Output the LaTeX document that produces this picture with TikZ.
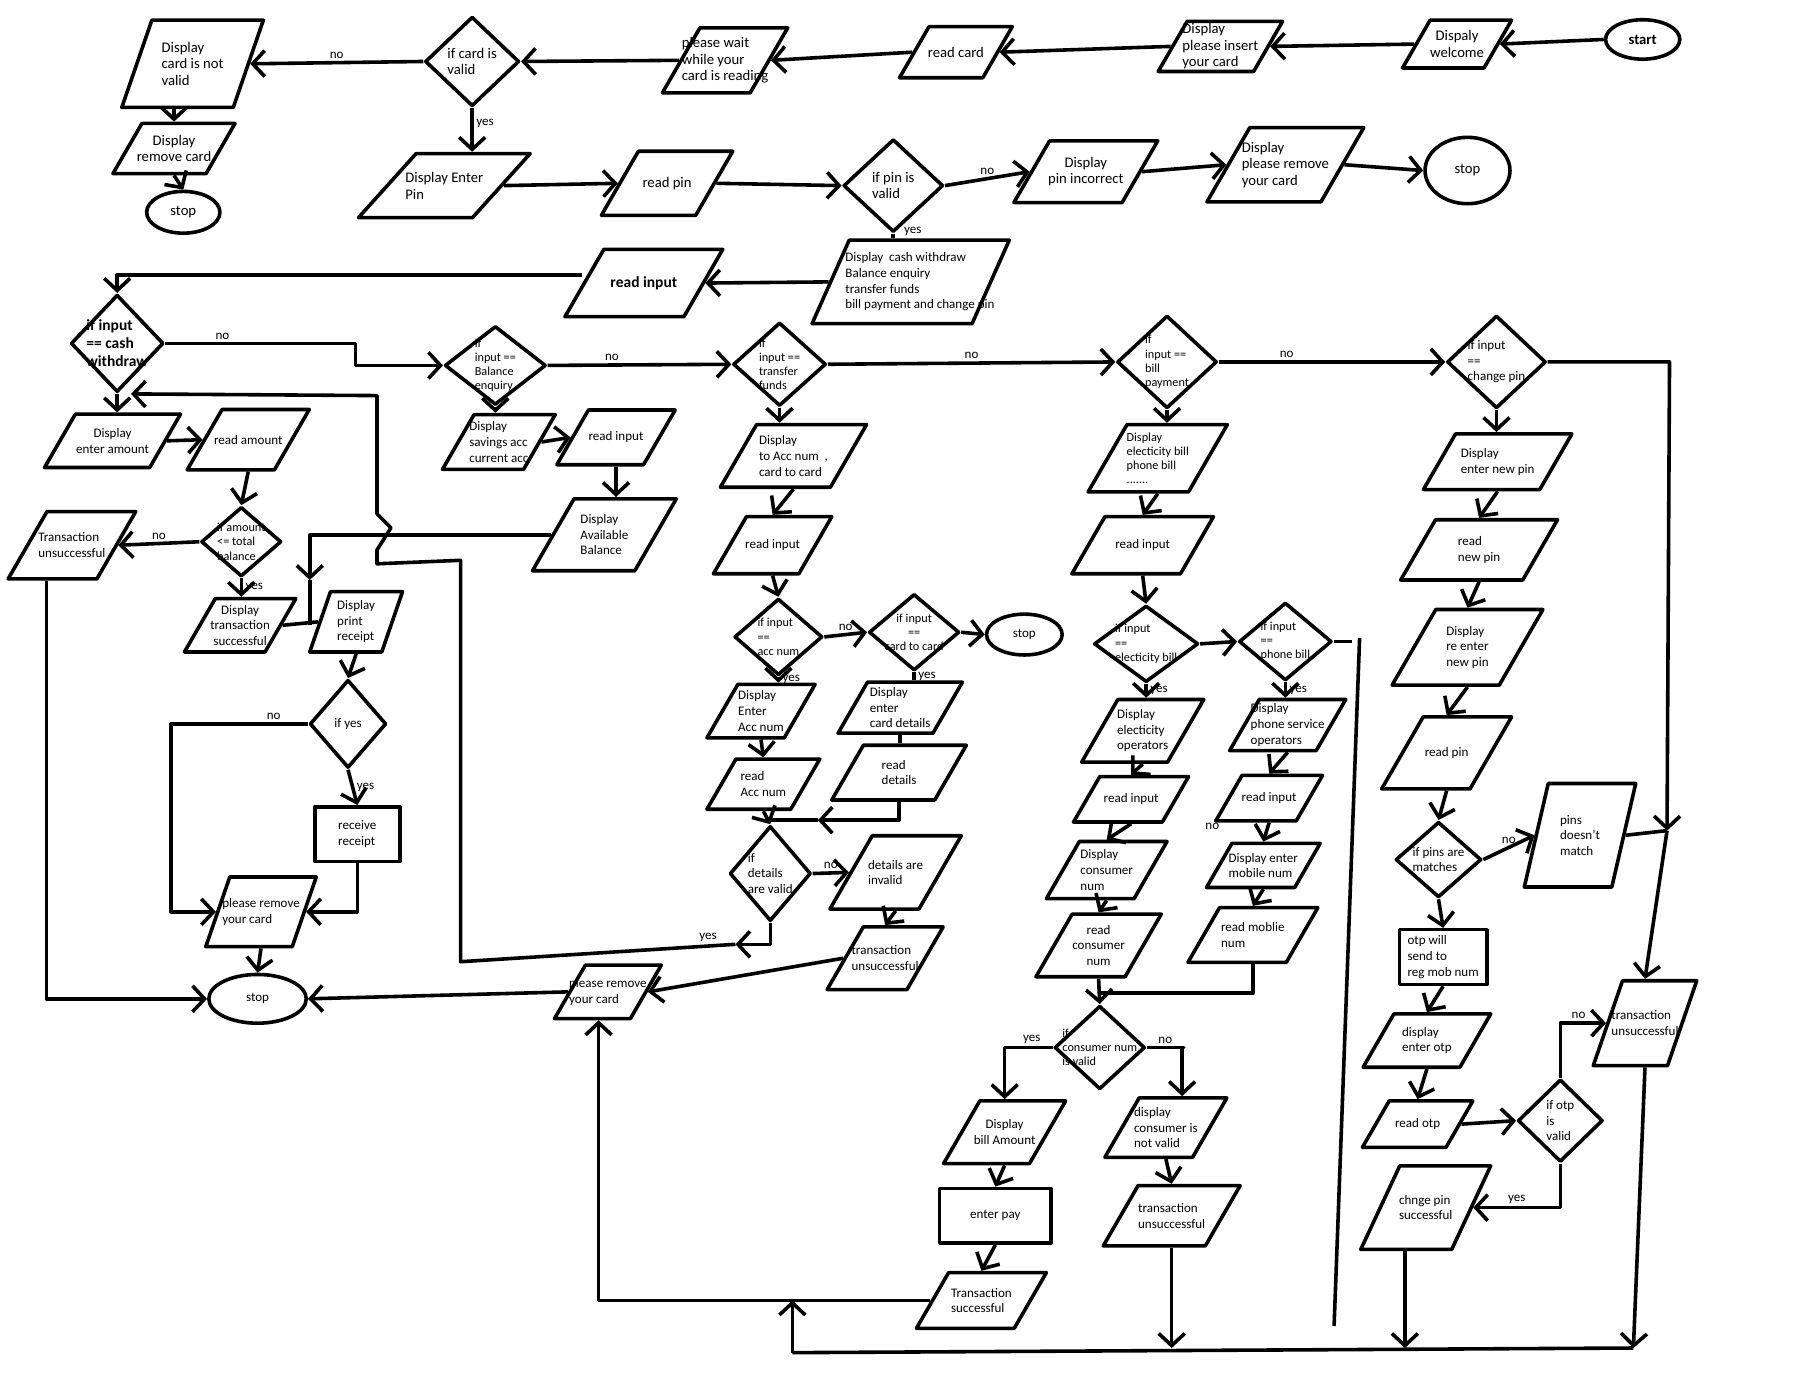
\documentclass[tikz,border=0pt]{standalone}
\usepackage{fontspec}
\setmainfont{Carlito}
\usetikzlibrary{arrows.meta,shapes.geometric}

\begin{document}
\begin{tikzpicture}[x=0.25mm, y=-0.25mm,
    ln/.style={line width=2.2pt, line join=round},
    arr/.style={ln, -{Straight Barb[length=2.6mm, width=5.6mm]}},
    lab/.style={font=\fontsize{8}{9.6}\selectfont, inner sep=1.5pt},
    txt/.style={font=\fontsize{8}{9.6}\selectfont, align=left, inner sep=0pt},
    txtb/.style={font=\fontsize{9}{10.2}\selectfont, align=left, inner sep=0pt},
    txts/.style={font=\fontsize{7.5}{8.7}\selectfont, align=left, inner sep=0pt},
    say/.style={label={[txt]center:#1}},
    sayc/.style={label={[txt, align=center]center:#1}},
    says/.style={label={[txts]center:#1}},
    saysc/.style={label={[txts, align=center]center:#1}},
    sayb/.style={label={[txtb]center:#1}},
    saybc/.style={label={[txtb, align=center]center:#1}},
    saybold/.style={label={[txtb, font=\fontsize{9.5}{11}\selectfont\bfseries]center:#1}},
    io/.style 2 args={draw, ln, trapezium, trapezium left angle=60, trapezium right angle=120,
        trapezium stretches body=true, inner xsep=0pt, inner ysep=#2*0.5cm, minimum width=#1cm},
    steep/.style={trapezium left angle=71, trapezium right angle=109},
    dec/.style 2 args={draw, ln, diamond, inner sep=0pt, minimum width=#1cm, minimum height=#2cm},
    term/.style 2 args={draw, ln, ellipse, inner sep=1pt, minimum width=#1cm, minimum height=#2cm,
        font=\fontsize{9}{10.7}\selectfont},
    proc/.style 2 args={draw, ln, rectangle, inner sep=2pt, minimum width=#1cm, minimum height=#2cm,
        align=left, font=\fontsize{8}{9.6}\selectfont}
]
  \useasboundingbox (0,0) rectangle (1568,1196);

  % card and pin
  \node[term={1.6}{0.85}, font=\fontsize{9}{10.7}\selectfont\bfseries] (start) at (1416,34) {start};
  \node[io={2.35}{1.03}, saybc={Dispaly\\welcome}] (welcome) at (1256,38) {};
  \node[io={2.68}{1.08}, sayb={Display\\please insert\\your card}] (insert) at (1052,40) {};
  \node[io={2.43}{1.1}, sayb={read card}] (readcard) at (824,45) {};
  \node[io={2.7}{1.4}, sayb={please wait\\while your\\card is reading}] (wait) at (625,52) {};
  \node[dec={2.03}{1.93}, sayb={if card is\\valid}] (cardvalid) at (407,53) {};
  \node[io={3.05}{1.88}, steep, sayb={Display\\card is not\\valid}] (notvalid) at (166,55) {};
  \node[io={2.63}{1.08}, saybc={Display\\remove card}] (remove1) at (150,128) {};
  \node[term={1.58}{0.9}] (stop1) at (158,183) {stop};
  \node[io={3.7}{1.38}, trapezium left angle=48, trapezium right angle=132, sayb={Display Enter\\Pin}] (enterpin) at (383,160) {};
  \node[io={2.83}{1.38}, sayb={read pin}] (readpin) at (575,158) {};
  \node[dec={2.15}{2.0}, sayb={if pin is\\valid}] (pinvalid) at (770,160) {};
  \node[io={3.1}{1.33}, saybc={Display\\pin incorrect}] (pinwrong) at (936,148) {};
  \node[io={3.38}{1.6}, sayb={Display\\please remove\\your card}] (remove2) at (1108,142) {};
  \node[term={1.83}{1.43}] (stop2) at (1265,147) {stop};
  \node[io={4.25}{1.8}, trapezium left angle=66, trapezium right angle=114,
    label={[txt, xshift=0.2cm]center:Display\ \ cash withdraw\\Balance enquiry\\transfer funds\\bill payment and change pin}] (menu) at (785,243) {};
  \node[io={3.4}{1.45}, saybold={read input}] (readin) at (555,244) {};

  % menu choices
  \node[dec={2.0}{2.1}, saybold={if input\\== cash\\withdraw}] (dcash) at (101,296) {};
  \node[dec={2.18}{1.7}, says={if\\input ==\\Balance\\enquiry}] (dbal) at (427,315) {};
  \node[dec={2.0}{1.8}, says={if\\input ==\\transfer\\funds}] (dtrans) at (672,314) {};
  \node[dec={2.15}{2.0}, says={if\\input ==\\bill\\payment}] (dbill) at (1006,312) {};
  \node[dec={2.13}{2.0}, say={if input\\==\\change pin}] (dpin) at (1290,312) {};

  % cash withdraw
  \node[io={2.93}{1.15}, sayc={Display\\enter amount}] (amount) at (97,380) {};
  \node[io={2.63}{1.3}, say={read amount}] (readamt) at (214,379) {};
  \node[dec={1.73}{1.5}, says={if amount\\<= total\\balance}] (damt) at (208,467) {};
  \node[io={2.75}{1.45}, say={Transaction\\unsuccessful}] (fail1) at (62,470) {};
  \node[io={2.4}{1.15}, sayc={Display\\transaction\\successful}] (okcash) at (207,539) {};
  \node[io={2.0}{1.3}, steep, say={Display\\print\\receipt}] (print) at (307,536) {};
  \node[dec={1.65}{1.9}, say={if yes}] (dyes) at (300,624) {};
  \node[proc={1.83}{1.18}] (receipt) at (308,719) {receive\\receipt};
  \node[io={2.38}{1.5}, steep, say={please remove\\your card}] (remove3) at (225,786) {};
  \node[term={2.1}{1.05}, font=\fontsize{8}{9.6}\selectfont] (stop3) at (222,861) {stop};

  % balance enquiry
  \node[io={2.43}{1.18}, say={Display\\savings acc\\current acc}] (accs) at (430,381) {};
  \node[io={2.55}{1.18}, say={read input}] (readin2) at (531,377) {};
  \node[io={3.1}{1.55}, say={Display\\Available\\Balance}] (balance) at (521,461) {};

  % transfer funds
  \node[io={3.15}{1.35}, say={Display\\to Acc num ~,\\card to card}] (toacc) at (684,393) {};
  \node[io={2.55}{1.23}, say={read input}] (readin3) at (666,470) {};
  \node[dec={1.9}{1.65}, says={if input\\==\\acc num}] (dacc) at (671,549) {};
  \node[dec={1.95}{1.65}, saysc={if input\\==\\card to card}] (dcard) at (788,545) {};
  \node[term={1.63}{0.88}, font=\fontsize{8}{9.6}\selectfont] (stop4) at (883,547) {stop};
  \node[io={2.33}{1.15}, say={Display\\Enter\\Acc num}] (enteracc) at (656,613) {};
  \node[io={2.68}{1.1}, say={Display\\enter\\card details}] (entercard) at (776,610) {};
  \node[io={2.43}{1.08}, say={read\\Acc num}] (readacc) at (658,676) {};
  \node[io={2.9}{1.18}, say={read\\details}] (readdet) at (775,666) {};
  \node[dec={1.75}{2.05}, say={if\\details\\are valid}] (ddet) at (664,753) {};
  \node[io={2.83}{1.58}, say={details are\\invalid}] (invalid) at (772,752) {};
  \node[io={2.5}{1.35}, say={transaction\\unsuccessful}] (fail2) at (763,826) {};
  \node[io={2.3}{1.15}, say={please remove\\your card}] (remove4) at (524,855) {};

  % bill payment
  \node[io={3.0}{1.45}, says={Display\\electicity bill\\phone bill\\.......}] (bills) at (998,395) {};
  \node[io={3.05}{1.23}, say={read input}] (readin4) at (985,470) {};
  \node[dec={2.25}{1.65}, says={if input\\==\\electicity bill}] (delec) at (988,555) {};
  \node[dec={2.0}{1.68}, says={if input\\==\\phone bill}] (dphone) at (1108,553) {};
  \node[io={2.63}{1.35}, say={Display\\electicity\\operators}] (elecop) at (985,630) {};
  \node[io={2.48}{0.98}, say={read input}] (readin5) at (975,689) {};
  \node[io={2.6}{1.23}, say={Display\\consumer\\num}] (consumer) at (954,750) {};
  \node[io={2.7}{1.35}, sayc={read\\consumer\\num}] (readcons) at (947,815) {};
  \node[dec={1.95}{1.8}, says={if\\consumer num\\is valid}] (dcons) at (948,903) {};
  \node[io={2.63}{1.35}, sayc={Display\\bill Amount}] (billamt) at (866,976) {};
  \node[proc={2.4}{1.18}] (pay) at (858,1048) {enter pay};
  \node[io={2.8}{1.2}, say={Transaction\\successful}] (paid) at (846,1121) {};
  \node[io={2.63}{1.28}, say={display\\consumer is\\not valid}] (badcons) at (1005,972) {};
  \node[io={2.95}{1.3}, say={transaction\\unsuccessful}] (fail3) at (1010,1048) {};
  \node[io={2.5}{1.1}, say={Display\\phone service\\operators}] (phoneop) at (1110,625) {};
  \node[io={2.3}{0.98}, say={read input}] (readin6) at (1094,688) {};
  \node[io={2.45}{0.95}, say={Display enter\\mobile num}] (mobile) at (1089,746) {};
  \node[io={2.8}{1.18}, say={read moblie\\num}] (readmob) at (1080,806) {};
  \node[lab] (strayno) at (1045,712) {no};

  % change pin
  \node[io={3.2}{1.2}, say={Display\\enter new pin}] (newpin) at (1291,398) {};
  \node[io={3.38}{1.3}, say={read\\new pin}] (readnew) at (1275,474) {};
  \node[io={3.25}{1.63}, say={Display\\re enter\\new pin}] (reenter) at (1265,558) {};
  \node[io={2.8}{1.55}, say={read pin}] (readpin2) at (1247,649) {};
  \node[dec={1.85}{1.63}, say={if pins are\\matches}] (dpins) at (1240,741) {};
  \node[io={2.4}{2.23}, trapezium left angle=77, trapezium right angle=103, say={pins\\doesn't\\match}] (nomatch) at (1362,720) {};
  \node[proc={1.88}{1.18}] (otp) at (1244,825) {otp will\\send to\\reg mob num};
  \node[io={2.75}{1.15}, say={display\\enter otp}] (enterotp) at (1230,897) {};
  \node[io={2.38}{1.0}, say={read otp}] (readotp) at (1222,969) {};
  \node[dec={1.83}{1.78}, say={if otp\\is\\valid}] (dotp) at (1345,966) {};
  \node[io={2.8}{1.8}, trapezium left angle=65, trapezium right angle=115, say={chnge pin\\successful}] (pinok) at (1229,1041) {};
  \node[io={2.23}{1.83}, steep, say={transaction\\unsuccessful}] (fail4) at (1418,882) {};

  % top rows
  \draw[arr] (start.west) -- (welcome.east);
  \draw[arr] (welcome.west) -- (insert.east);
  \draw[arr] (insert.west) -- (readcard.east);
  \draw[arr] (readcard.west) -- (wait.east);
  \draw[arr] (wait.west) -- (cardvalid.east);
  \draw[arr] (cardvalid.west) -- node[lab, above] {no} (notvalid.east);
  \draw[arr] (remove1.north |- notvalid.south) -- (remove1.north);
  \draw[arr] (remove1.south) -- (stop1.north);
  \draw[arr] (cardvalid.south) -- node[lab, right, pos=.35] {yes} (cardvalid.south |- enterpin.north);
  \draw[arr] (enterpin.east) -- (readpin.west);
  \draw[arr] (readpin.east) -- (pinvalid.west);
  \draw[arr] (pinvalid.east) -- node[lab, above] {no} (pinwrong.west);
  \draw[arr] (pinwrong.east) -- (remove2.west);
  \draw[arr] (remove2.east) -- (stop2.west);
  \draw[ln] (pinvalid.south) -- node[lab, right, xshift=4pt, yshift=3pt] {yes} (pinvalid.south |- menu.north);
  \draw[arr] (menu.west) -- (readin.east);
  \draw[arr] ([yshift=0.18cm]readin.west) -| (dcash.north);

  % menu row
  \draw[arr] (dcash.east) -- node[lab, above, pos=.3] {no} ++(164,0) |- (dbal.west);
  \draw[arr] (dbal.east) -- node[lab, above, pos=.35] {no} (dtrans.west);
  \draw[arr] (dtrans.east) -- node[lab, above] {no} (dbill.west);
  \draw[arr] (dbill.east) -- node[lab, above, pos=.3] {no} (dpin.west);
  \coordinate (pinjoin) at (1437,716);
  \draw[arr] (dpin.east) -- ++(105,0) -- (pinjoin);
  \draw[arr] (pinjoin) -- (fail4.north);

  % cash withdraw
  \draw[arr] (dcash.south) -- (dcash.south |- amount.north);
  \draw[arr] (amount.east) -- (readamt.west);
  \draw[arr] (readamt.south) -- (damt.north);
  \draw[arr] (damt.west) -- node[lab, above] {no} (fail1.east);
  \draw[arr] (damt.south) -- node[lab, right] {yes} (damt.south |- okcash.north);
  \draw[ln] (okcash.east) -- (print.west);
  \draw[arr] (print.south) -- (dyes.north);
  \draw[arr] (dyes.west) -- node[lab, above, pos=.25] {no} ++(-118,0) |- (remove3.west);
  \draw[arr] (dyes.south) -- node[lab, right] {yes} (receipt.north);
  \draw[arr] (receipt.south) |- (remove3.east);
  \draw[arr] (remove3.south) -- (stop3.north);
  \draw[arr] ([xshift=-0.55cm]fail1.south) |- (stop3.west);
  \draw[arr] (remove4.west) -- (stop3.east);

  % balance enquiry
  \draw[arr] (dbal.south) -- (dbal.south |- accs.north);
  \draw[arr] (accs.east) -- (readin2.west);
  \draw[arr] (readin2.south) -- (readin2.south |- balance.north);
  \coordinate (baljoin) at (267,500);
  \draw[arr] (balance.west) -| (baljoin);
  \draw[ln] (baljoin) -- (baljoin |- okcash.east);

  % transfer funds
  \draw[arr] (dtrans.south) -- (dtrans.south |- toacc.north);
  \draw[arr] (toacc.south) -- (readin3.north);
  \draw[arr] (readin3.south) -- (dacc.north);
  \draw[arr] (dacc.east) -- node[lab, above] {no} (dcard.west);
  \draw[arr] (dcard.east) -- (stop4.west);
  \draw[arr] (dacc.south) -- node[lab, right] {yes} (dacc.south |- enteracc.north);
  \draw[ln] (dcard.south) -- node[lab, right] {yes} (dcard.south |- entercard.north);
  \draw[arr] (enteracc.south) -- (readacc.north);
  \draw[ln] (entercard.south) -- (entercard.south |- readdet.north);
  \draw[arr] (readacc.south) -- (ddet.north);
  \coordinate (detjoin) at (705,707);
  \draw[arr] (readdet.south) |- (detjoin);
  \draw[ln] (detjoin) -- (ddet.north |- detjoin);
  \draw[arr] (ddet.east) -- node[lab, above] {no} (invalid.west);
  \draw[arr] (invalid.south) -- (fail2.north);
  \draw[arr] (fail2.west) -- (remove4.east);
  \coordinate (loopa) at (634,814);
  \draw[arr] (ddet.south) |- (loopa);
  \draw[arr] (loopa) -- node[lab, above, pos=.1] {yes} (397,829) -- (397,483)
    -- (325,486) -- (325,474) -- (337,455) -- (325,443) -- (325,341) -- ([xshift=0.3cm]dcash.south);

  % bill payment
  \draw[arr] (dbill.south) -- (dbill.south |- bills.north);
  \draw[arr] (bills.south) -- (readin4.north);
  \draw[arr] (readin4.south) -- (delec.north);
  \draw[arr] (delec.east) -- (dphone.west);
  \draw[ln] (dphone.east) -- ++(16,0);
  \draw[arr] (delec.south) -- node[lab, right] {yes} (delec.south |- elecop.north);
  \draw[arr] (elecop.south) -- (readin5.north);
  \draw[arr] (readin5.south) -- (consumer.north);
  \draw[arr] (consumer.south) -- (readcons.north);
  \draw[arr] (readcons.south) -- (dcons.north);
  \coordinate (mobjoin) at (947,856);
  \draw[ln] (readmob.south) |- (mobjoin);
  \draw[arr] (dcons.west) -- node[lab, above] {yes} ++(-36,0) -| (billamt.north);
  \draw[arr] (dcons.east) -- node[lab, above] {no} ++(32,0) -| ([xshift=0.35cm]badcons.north);
  \draw[arr] (billamt.south) -- (pay.north);
  \draw[arr] (pay.south) -- (paid.north);
  \draw[arr] (badcons.south) -- (fail3.north);
  \draw[arr] (dphone.south) -- node[lab, right] {yes} (dphone.south |- phoneop.north);
  \draw[arr] (phoneop.south) -- (readin6.north);
  \draw[arr] (readin6.south) -- (mobile.north);
  \draw[arr] (mobile.south) -- (readmob.north);
  \draw[arr] (paid.west) -| ([xshift=-0.2cm]remove4.south);
  \draw[ln] (1172,550) -- (1150,1143);

  % change pin
  \draw[arr] (dpin.south) -- (dpin.south |- newpin.north);
  \draw[arr] (newpin.south) -- (readnew.north);
  \draw[arr] (readnew.south) -- (reenter.north);
  \draw[arr] (reenter.south) -- (readpin2.north);
  \draw[arr] (readpin2.south) -- (dpins.north);
  \draw[arr] (dpins.east) -- node[lab, above] {no} (nomatch.west);
  \draw[ln] (nomatch.east) -- (pinjoin);
  \draw[arr] (dpins.south) -- (otp.north);
  \draw[arr] (otp.south) -- (enterotp.north);
  \draw[arr] (enterotp.south) -- (readotp.north);
  \draw[arr] (readotp.east) -- (dotp.west);
  \draw[arr] (dotp.north) |- node[lab, above, pos=.7] {no} (fail4.west);
  \draw[arr] (dotp.south) |- node[lab, above, pos=.75] {yes} (pinok.east);

  % bottom line
  \coordinate (bend) at (1408,1162);
  \coordinate (bstart) at (683,1166);
  \coordinate (pinokfoot) at ([xshift=-0.45cm]pinok.south);
  \draw[arr] (fail4.south) -- (bend);
  \draw[arr] (pinokfoot) -- (pinokfoot |- bend);
  \draw[arr] (fail3.south) -- (fail3.south |- bend);
  \draw[ln] (bend) -- (bstart);
  \draw[arr] (bstart) -- (bstart |- paid.west);
\end{tikzpicture}
\end{document}
